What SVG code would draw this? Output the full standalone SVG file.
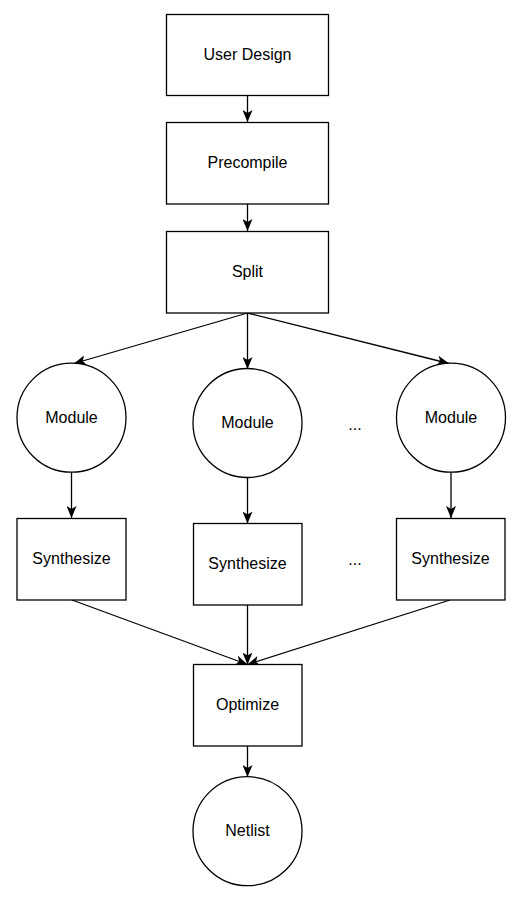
<svg xmlns="http://www.w3.org/2000/svg" width="518" height="903" viewBox="0 0 518 903">
<style>
  .n { fill: #ffffff; stroke: #000000; stroke-width: 1.3; }
  .t { font-family: "Liberation Sans", Arial, sans-serif; font-size: 16px; fill: #000000; text-anchor: middle; dominant-baseline: central; }
  .e { fill: none; stroke: #000000; stroke-width: 1.3; marker-end: url(#arr); }
</style>
<defs>
  <marker id="arr" viewBox="0 0 12 10" refX="12" refY="5" markerWidth="12" markerHeight="10" markerUnits="userSpaceOnUse" orient="auto">
    <path d="M0,0 L12,5 L0,10 L3,5 z" fill="#000000"/>
  </marker>
</defs>
<rect width="518" height="903" fill="#ffffff"/>
<g id="connectors">
  <line class="e" x1="247.5" y1="96" x2="247.5" y2="122"/>
  <line class="e" x1="247.5" y1="204" x2="247.5" y2="231"/>
  <line class="e" x1="247.5" y1="313" x2="74" y2="363.5"/>
  <line class="e" x1="247.5" y1="313" x2="247.5" y2="369"/>
  <line class="e" x1="247.5" y1="313" x2="449" y2="363.5"/>
  <line class="e" x1="71.5" y1="472" x2="71.5" y2="518"/>
  <line class="e" x1="247.5" y1="477" x2="247.5" y2="523.5"/>
  <line class="e" x1="451" y1="472" x2="451" y2="518"/>
  <line class="e" x1="72" y1="600" x2="247.5" y2="664.5"/>
  <line class="e" x1="247.5" y1="605" x2="247.5" y2="664.5"/>
  <line class="e" x1="450" y1="600" x2="247.5" y2="664.5"/>
  <line class="e" x1="247.5" y1="746" x2="247.5" y2="777"/>
</g>
<g id="user-design">
  <rect class="n" x="166.5" y="14.5" width="162" height="81"/>
  <text class="t" x="247.5" y="54">User Design</text>
</g>
<g id="precompile">
  <rect class="n" x="166.5" y="122.5" width="162" height="81.5"/>
  <text class="t" x="247.5" y="162.5">Precompile</text>
</g>
<g id="split">
  <rect class="n" x="166.5" y="231.5" width="162" height="81.5"/>
  <text class="t" x="247.5" y="271">Split</text>
</g>
<g id="module-1">
  <circle class="n" cx="71.5" cy="417.7" r="54.5"/>
  <text class="t" x="71.5" y="417">Module</text>
</g>
<g id="module-2">
  <circle class="n" cx="247.5" cy="423" r="54.5"/>
  <text class="t" x="247.5" y="422.5">Module</text>
</g>
<g id="ellipsis-1">
  <text class="t" x="355" y="424">...</text>
</g>
<g id="module-3">
  <circle class="n" cx="451" cy="417.7" r="54.5"/>
  <text class="t" x="451" y="417">Module</text>
</g>
<g id="synthesize-1">
  <rect class="n" x="17" y="518.5" width="109" height="81.5"/>
  <text class="t" x="71.5" y="558.5">Synthesize</text>
</g>
<g id="synthesize-2">
  <rect class="n" x="193.5" y="523.5" width="108.5" height="81.5"/>
  <text class="t" x="247.5" y="563.5">Synthesize</text>
</g>
<g id="ellipsis-2">
  <text class="t" x="355" y="559">...</text>
</g>
<g id="synthesize-3">
  <rect class="n" x="396.5" y="518.5" width="108.5" height="81.5"/>
  <text class="t" x="450.5" y="558.5">Synthesize</text>
</g>
<g id="optimize">
  <rect class="n" x="193.5" y="664.5" width="108.5" height="81.5"/>
  <text class="t" x="247.5" y="704.5">Optimize</text>
</g>
<g id="netlist">
  <circle class="n" cx="247.5" cy="831.2" r="54.5"/>
  <text class="t" x="247.5" y="830.5">Netlist</text>
</g>
</svg>
